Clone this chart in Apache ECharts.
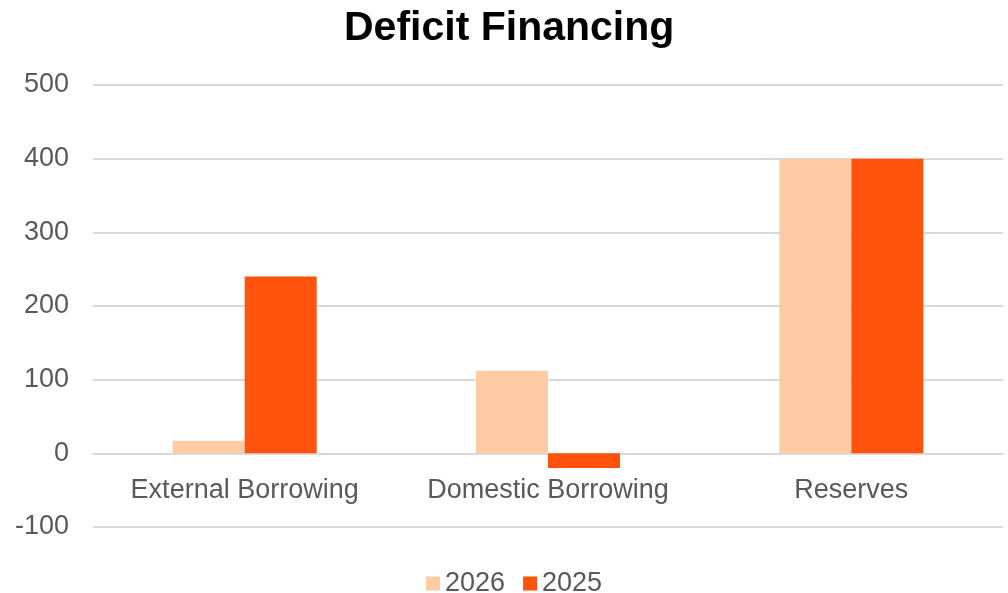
<!DOCTYPE html>
<html>
<head>
    <meta charset="UTF-8">
    <title>Deficit Financing</title>
    <script type="text/javascript" src="https://cdn.jsdelivr.net/npm/echarts@6/dist/echarts.min.js"></script>
</head>
<body style="margin:0;">
    <div id="main" style="width: 1008px;height:593px;"></div>
    <script type="text/javascript">
        var categories = ['External Borrowing', 'Domestic Borrowing', 'Reserves'];
        var years = ['2026', '2025'];
        var values2026 = [17, 112, 400];
        var values2025 = [240, -20, 400];

        var chart = echarts.init(document.getElementById('main'));
        var font = 'Liberation Sans, Arial, sans-serif';

        chart.setOption({
            animation: false,
            title: {
                text: 'Deficit Financing',
                left: 339,
                top: 3,
                textStyle: { fontFamily: font, fontSize: 41, fontWeight: 'bold', color: '#000' }
            },
            color: ['#FFCBA4', '#FF530D'],
            legend: {
                data: years,
                top: 565,
                left: 421,
                itemWidth: 14,
                itemHeight: 14,
                itemGap: 18,
                icon: 'rect',
                textStyle: { fontFamily: font, fontSize: 27, color: '#595959' }
            },
            grid: {
                left: 93,
                right: 5,
                top: 85,
                bottom: 66
            },
            xAxis: {
                type: 'category',
                data: categories,
                axisTick: { show: false },
                axisLine: { onZero: true, lineStyle: { color: '#d9d9d9', width: 2 } },
                // labels sit just under the zero line
                axisLabel: { interval: 0, fontFamily: font, fontSize: 27, color: '#595959', margin: -50 }
            },
            yAxis: {
                type: 'value',
                min: -100,
                max: 500,
                interval: 100,
                axisLine: { show: false },
                axisTick: { show: false },
                splitLine: { lineStyle: { color: '#d9d9d9', width: 2 } },
                axisLabel: { fontFamily: font, fontSize: 27, color: '#595959', margin: 24 }
            },
            series: [{
                name: years[0],
                type: 'bar',
                barWidth: 72,
                barGap: 0,
                data: values2026
            }, {
                name: years[1],
                type: 'bar',
                barWidth: 72,
                barGap: 0,
                data: values2025
            }]
        });
    </script>
</body>
</html>
